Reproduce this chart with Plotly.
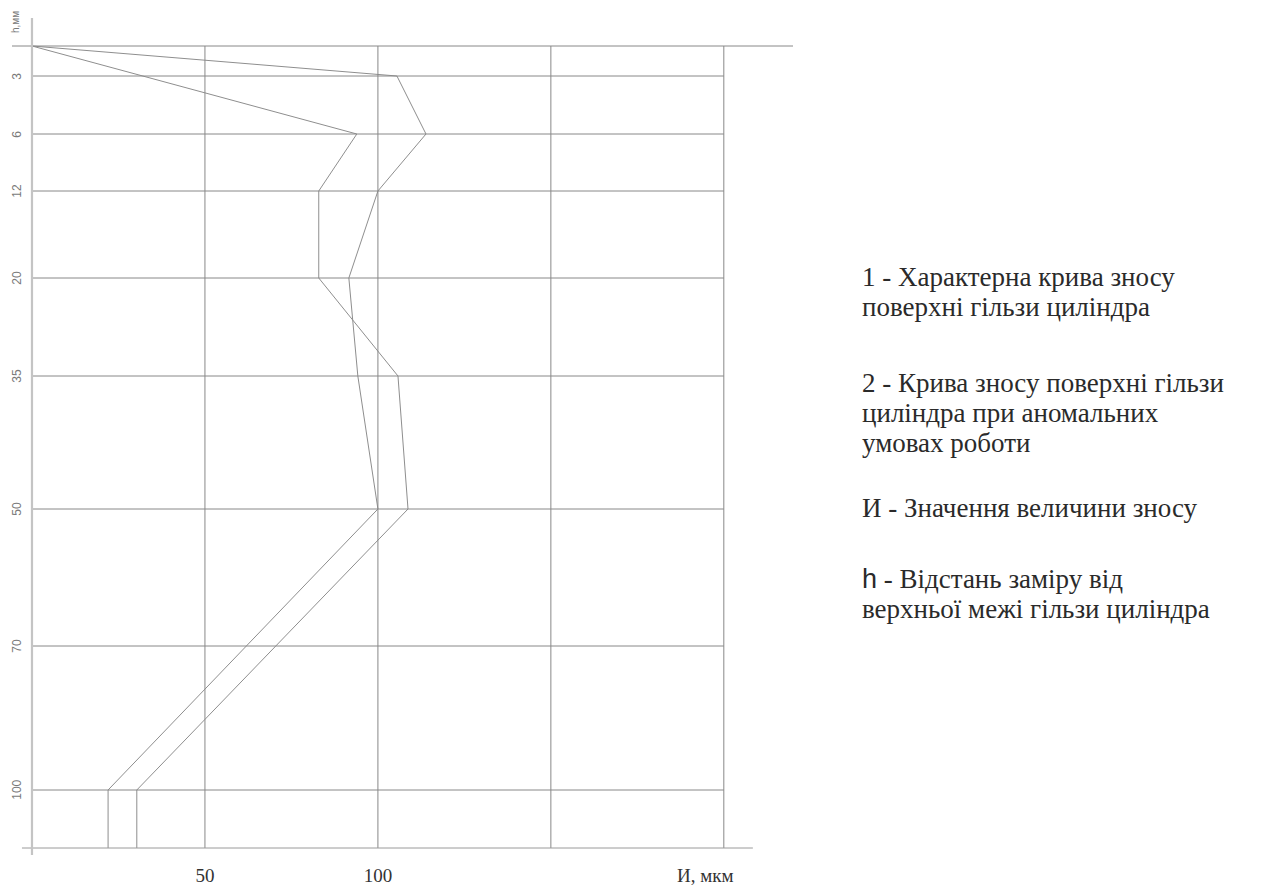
import plotly.graph_objects as go
import numpy as np

# ---------------- data ----------------
h_levels = [0, 3, 6, 12, 20, 35, 50, 70, 100]          # h, мм (tick labels)
h_bottom = 110                                          # lower edge of the drawing

# curve 1 (characteristic)
c1_h = [0, 3, 6, 12, 20, 35, 50, 100, 110]
c1_w = [0, 105.5, 113.9, 100, 91.6, 94.2, 100, 22.0, 22.0]
# curve 2 (abnormal conditions)
c2_h = [0, 6, 12, 20, 35, 50, 100, 110]
c2_w = [0, 93.9, 82.9, 82.9, 105.8, 108.7, 30.3, 30.3]

x_ticks = [50, 100]
x_grid = [50, 100, 150, 200]

legend_lines = [
    "1 - Характерна крива зносу",
    "поверхні гільзи циліндра",
    "2 - Крива зносу поверхні гільзи",
    "циліндра при аномальних",
    "умовах роботи",
    "И - Значення величини зносу",
    "<span style='font-family:Liberation Sans'>h</span> - Відстань заміру від",
    "верхньої межі гільзи циліндра",
]

# ------------- non-uniform depth scale of the drawing -------------
scale_levels = h_levels + [h_bottom]
scale_pos = [0, 30, 88, 145, 232, 330, 463, 600, 744, 802]


def hscale(h):
    return list(np.interp(h, scale_levels, scale_pos))


OFF = 8                       # page body margin
W, H = 1265 - OFF, 893 - OFF
L_PX, R_PX, T_PX, B_PX = 12, 793, 18, 855   # plot area in reference pixels
X_MIN, X_MAX = -5.78, 220
Y_TOP, Y_BOT = -28, 809

GRID = "#888888"
CURVE = "#8e8e8e"
SERIF = "Liberation Serif"

fig = go.Figure()
for hh, ww in [(c1_h, c1_w), (c2_h, c2_w)]:
    fig.add_trace(go.Scatter(x=ww, y=hscale(hh), mode="lines",
                             line=dict(color=CURVE, width=1),
                             hoverinfo="skip", showlegend=False))

shapes = []
y0 = hscale([0])[0]
yb = hscale([h_bottom])[0]
for xv in x_grid:
    shapes.append(dict(type="line", xref="x", yref="y", x0=xv, x1=xv, y0=y0, y1=yb,
                       line=dict(color=GRID, width=1)))
for i, hv in enumerate(h_levels):
    yv = hscale([hv])[0]
    xa, xb = (X_MIN, X_MAX) if i == 0 else (0, 200)
    shapes.append(dict(type="line", xref="x", yref="y", x0=xa, x1=xb, y0=yv, y1=yv,
                       line=dict(color=GRID, width=1)))
shapes.append(dict(type="line", xref="x", yref="y", x0=-2.9, x1=208.4, y0=yb, y1=yb,
                   line=dict(color="#9a9a9a", width=1)))
shapes.append(dict(type="line", xref="x", yref="y", x0=0, x1=0, y0=Y_TOP, y1=Y_BOT,
                   line=dict(color="#c4c4c4", width=2.2)))

annotations = []
for hv in h_levels[1:]:
    annotations.append(dict(x=-4.4, y=hscale([hv])[0], xref="x", yref="y",
                            text=str(hv), showarrow=False, textangle=-90,
                            font=dict(family="Liberation Sans", size=12, color="#7a7a7a")))
annotations.append(dict(x=-4.9, y=-24, xref="x", yref="y", text="h,мм", showarrow=False,
                        textangle=-90,
                        font=dict(family="Liberation Sans", size=10, color="#7a7a7a")))


def px_x(px):
    return (px - L_PX) / (R_PX - L_PX)


def px_y(py):
    return (B_PX - py) / (B_PX - T_PX)


annotations.append(dict(x=px_x(705), y=px_y(876), xref="paper", yref="paper",
                        text="И, мкм", showarrow=False, xanchor="center", yanchor="middle",
                        font=dict(family=SERIF, size=19, color="#333333")))

line_y = [276.5, 306.5, 383, 413, 443, 508, 578.5, 608.5]
for txt, py in zip(legend_lines, line_y):
    annotations.append(dict(x=px_x(860), y=px_y(py), xref="paper", yref="paper",
                            text=txt, showarrow=False, xanchor="left", yanchor="middle",
                            font=dict(family=SERIF, size=27, color="#2a2a2a")))

fig.update_layout(
    width=W, height=H,
    margin=dict(l=L_PX - OFF, r=W - (R_PX - OFF), t=T_PX - OFF, b=H - (B_PX - OFF), pad=0),
    paper_bgcolor="white", plot_bgcolor="white",
    xaxis=dict(range=[X_MIN, X_MAX], showgrid=False, zeroline=False, showline=False,
               tickvals=x_ticks, ticktext=[str(v) for v in x_ticks], ticks="",
               ticklabelstandoff=7,
               tickfont=dict(family=SERIF, size=19, color="#333333")),
    yaxis=dict(range=[Y_BOT, Y_TOP], showgrid=False, zeroline=False, showline=False,
               showticklabels=False, ticks=""),
    shapes=shapes, annotations=annotations, showlegend=False,
)

fig.write_html("out.html")
